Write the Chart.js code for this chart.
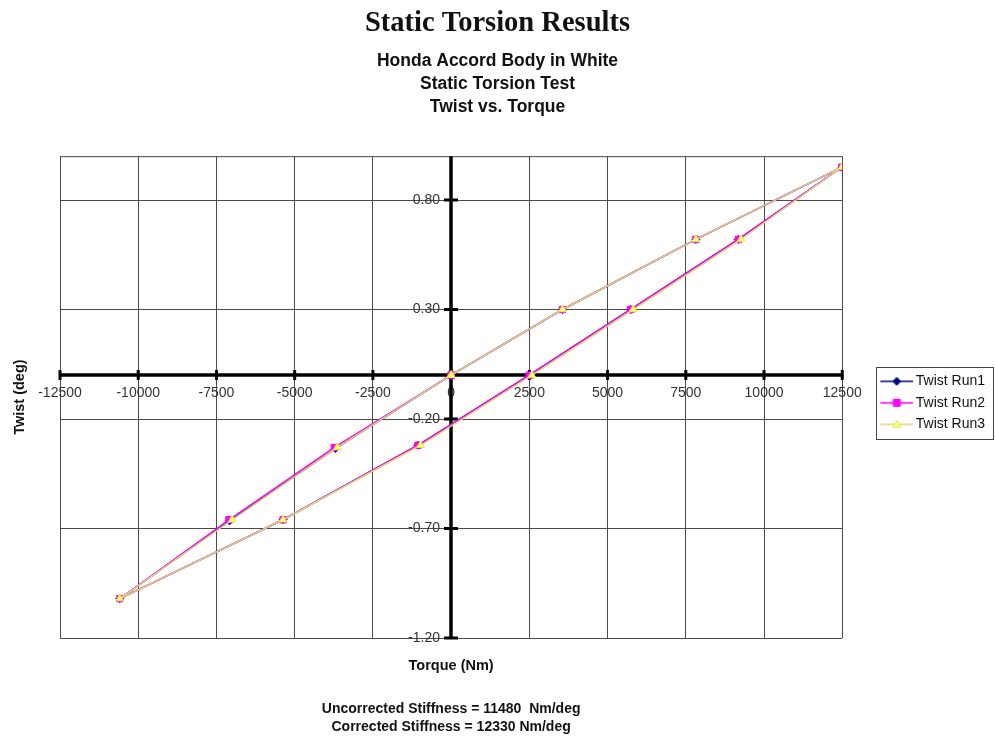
<!DOCTYPE html>
<html>
<head>
<meta charset="utf-8">
<title>Static Torsion Results</title>
<script src="https://cdn.jsdelivr.net/npm/chart.js@4.4.1/dist/chart.umd.min.js"></script>
<style>
  html, body { margin: 0; padding: 0; background: #ffffff; }
  #wrap { width: 995px; height: 738px; }
</style>
</head>
<body>
<div id="wrap"><canvas id="chart" width="995" height="738"></canvas></div>
<script>
// ---- data: torque (Nm) and twist (deg) in test order, one closed loop per run ----
const seriesNames = ['Twist Run1', 'Twist Run2', 'Twist Run3'];

const run1Torque = [0, 3560, 7820, 12490, 9180, 5740, 2500, -1060, -5370, -10590, -7080, -3700, 0];
const run1Twist  = [0, 0.30, 0.62, 0.95, 0.62, 0.30, 0.00, -0.32, -0.66, -1.02, -0.665, -0.335, 0];

const run2Torque = [0, 3560, 7820, 12490, 9180, 5740, 2500, -1060, -5370, -10590, -7100, -3730, 0];
const run2Twist  = [0, 0.30, 0.62, 0.95, 0.62, 0.30, 0.00, -0.32, -0.66, -1.02, -0.66, -0.33, 0];

const run3Torque = [0, 3560, 7820, 12490, 9260, 5820, 2580, -980, -5370, -10590, -7000, -3640, 0];
const run3Twist  = [0, 0.30, 0.62, 0.95, 0.62, 0.30, 0.00, -0.32, -0.66, -1.02, -0.66, -0.33, 0];

const xTicks = [-12500, -10000, -7500, -5000, -2500, 0, 2500, 5000, 7500, 10000, 12500];
const yTicks = [-1.2, -0.7, -0.2, 0.3, 0.8];

const titleText = 'Static Torsion Results';
const subtitleLines = ['Honda Accord Body in White', 'Static Torsion Test', 'Twist vs. Torque'];
const xTitle = 'Torque (Nm)';
const yTitle = 'Twist (deg)';
const noteLines = ['Uncorrected Stiffness = 11480  Nm/deg', 'Corrected Stiffness = 12330 Nm/deg'];

// ---- styles ----
const SANS = "'Liberation Sans', Arial, Helvetica, sans-serif";
const SERIF = "'Liberation Serif', 'Times New Roman', serif";
const lineColors = ['#000080', '#ff00ff', '#d8d878'];
const lineWidths = [1.5, 1.5, 1.5];
const markerFill = ['#000080', '#ff00ff', '#ffff70'];
const markerStyle = ['rectRot', 'rect', 'triangle'];
const markerRadius = [4, 4.5, 4.5];

const toPoints = (xs, ys) => xs.map((v, i) => ({ x: v, y: ys[i] }));

Chart.defaults.font.family = SANS;
Chart.defaults.color = '#111';

// legend sample: short line with the series marker in its middle
function legendSample(i) {
  const c = document.createElement('canvas');
  c.width = 68; c.height = 14;
  const g = c.getContext('2d');
  const cy = 7, x1 = 35, x2 = 68, mx = 51.5;
  g.strokeStyle = lineColors[i];
  g.lineWidth = 1.5;
  g.beginPath(); g.moveTo(x1, cy); g.lineTo(x2, cy); g.stroke();
  g.fillStyle = markerFill[i];
  g.strokeStyle = i === 2 ? '#e4e44a' : lineColors[i];
  g.lineWidth = 1;
  g.beginPath();
  if (i === 0) {
    g.moveTo(mx, cy - 4); g.lineTo(mx + 4, cy); g.lineTo(mx, cy + 4); g.lineTo(mx - 4, cy); g.closePath();
  } else if (i === 1) {
    g.rect(mx - 3.5, cy - 3.5, 7, 7);
  } else {
    g.moveTo(mx, cy - 4); g.lineTo(mx + 4, cy + 3); g.lineTo(mx - 4, cy + 3); g.closePath();
  }
  g.fill(); g.stroke();
  return c;
}
const samples = [0, 1, 2].map(legendSample);

// centred axes drawn at zero torque / zero twist, with the frame on top
const centerAxes = {
  id: 'centerAxes',
  beforeDatasetsDraw(chart) {
    const { ctx, chartArea: a, scales: { x, y } } = chart;
    const x0 = Math.round(x.getPixelForValue(0));
    const y0 = Math.round(y.getPixelForValue(0));
    ctx.save();
    // top edge of the plot frame
    ctx.strokeStyle = '#444';
    ctx.lineWidth = 1;
    ctx.beginPath(); ctx.moveTo(a.left, a.top + 0.5); ctx.lineTo(a.right, a.top + 0.5); ctx.stroke();

    // tick labels
    ctx.fillStyle = '#333';
    ctx.font = '14px ' + SANS;
    ctx.textAlign = 'center';
    ctx.textBaseline = 'middle';
    x.ticks.forEach(t => {
      ctx.fillText(String(t.value), x.getPixelForValue(t.value), y0 + 18);
    });
    ctx.textAlign = 'right';
    y.ticks.forEach(t => {
      ctx.fillText(t.value.toFixed(2), x0 - 11, y.getPixelForValue(t.value));
    });

    // axis lines
    ctx.strokeStyle = '#000';
    ctx.lineWidth = 3.5;
    ctx.beginPath(); ctx.moveTo(a.left, y0); ctx.lineTo(a.right, y0); ctx.stroke();
    ctx.beginPath(); ctx.moveTo(x0, a.top); ctx.lineTo(x0, a.bottom); ctx.stroke();

    // tick marks crossing the axes
    ctx.lineWidth = 3;
    x.ticks.forEach(t => {
      const px = x.getPixelForValue(t.value);
      ctx.beginPath(); ctx.moveTo(px, y0 - 5); ctx.lineTo(px, y0 + 5); ctx.stroke();
    });
    y.ticks.forEach(t => {
      const py = y.getPixelForValue(t.value);
      ctx.beginPath(); ctx.moveTo(x0 - 7, py); ctx.lineTo(x0 + 7, py); ctx.stroke();
    });
    ctx.restore();
  }
};

// axis titles, stiffness notes and the legend frame
const annotations = {
  id: 'annotations',
  afterDraw(chart) {
    const { ctx, chartArea: a, legend } = chart;
    const cx = (a.left + a.right) / 2;
    ctx.save();
    ctx.fillStyle = '#111';
    ctx.textAlign = 'center';
    ctx.textBaseline = 'middle';
    ctx.font = 'bold 14.5px ' + SANS;
    ctx.fillText(xTitle, cx, 666);
    ctx.save();
    ctx.translate(20, (a.top + a.bottom) / 2);
    ctx.rotate(-Math.PI / 2);
    ctx.fillText(yTitle, 0, 0);
    ctx.restore();
    ctx.font = 'bold 14px ' + SANS;
    ctx.fillText(noteLines[0], cx, 709);
    ctx.fillText(noteLines[1], cx, 727);

    if (legend && legend.legendHitBoxes && legend.legendHitBoxes.length) {
      const hb = legend.legendHitBoxes;
      const first = hb[0], last = hb[hb.length - 1];
      const left = first.left + 26.5;
      const top = first.top - 7;
      const right = legend.right - 1.5;
      const bottom = last.top + last.height + 8;
      ctx.strokeStyle = '#444';
      ctx.lineWidth = 1;
      ctx.strokeRect(Math.round(left) + 0.5, Math.round(top) + 0.5, Math.round(right - left), Math.round(bottom - top));
    }
    ctx.restore();
  }
};

const datasets = [run1Torque, run2Torque, run3Torque].map((xs, i) => ({
  label: seriesNames[i],
  data: toPoints(xs, [run1Twist, run2Twist, run3Twist][i]),
  showLine: true,
  borderColor: lineColors[i],
  borderWidth: lineWidths[i],
  backgroundColor: markerFill[i],
  pointStyle: markerStyle[i],
  pointRadius: markerRadius[i],
  pointBackgroundColor: markerFill[i],
  pointBorderColor: i === 2 ? '#e4e44a' : lineColors[i],
  pointBorderWidth: 1,
  tension: 0,
  order: 2 - i
}));

new Chart(document.getElementById('chart'), {
  type: 'scatter',
  data: { datasets },
  options: {
    responsive: false,
    animation: false,
    devicePixelRatio: 1,
    layout: { padding: 0 },
    events: [],
    plugins: {
      title: {
        display: true,
        text: titleText,
        color: '#111',
        font: { family: SERIF, size: 28.5, weight: 'bold', lineHeight: 1.2 },
        padding: { top: 7, bottom: 8 }
      },
      subtitle: {
        display: true,
        text: subtitleLines,
        color: '#111',
        font: { family: SANS, size: 17.5, weight: 'bold', lineHeight: 23 / 17.5 },
        padding: { top: 0, bottom: 38 }
      },
      legend: {
        position: 'right',
        align: 'center',
        fullSize: false,
        title: { display: true, text: ' ', font: { size: 1, lineHeight: 1 }, padding: { top: 10.5, bottom: 0 } },
        labels: {
          usePointStyle: true,
          pointStyleWidth: 59,
          padding: 7.5,
          color: '#111',
          font: { family: SANS, size: 14 },
          generateLabels: chart => chart.data.datasets.map((ds, i) => ({
            text: ds.label,
            pointStyle: samples[i],
            datasetIndex: i,
            hidden: false,
            lineWidth: 0,
            strokeStyle: 'rgba(0,0,0,0)',
            fillStyle: 'rgba(0,0,0,0)'
          }))
        }
      },
      tooltip: { enabled: false }
    },
    scales: {
      x: {
        type: 'linear',
        min: -12500,
        max: 12500,
        afterBuildTicks: s => { s.ticks = xTicks.map(v => ({ value: v })); },
        afterFit: s => { s.height = 100; },
        ticks: { display: false },
        grid: { color: '#4a4a4a', lineWidth: 1, drawTicks: false },
        border: { display: false }
      },
      y: {
        type: 'linear',
        min: -1.2,
        max: 1.0,
        afterBuildTicks: s => { s.ticks = yTicks.map(v => ({ value: v })); },
        afterFit: s => { s.width = 60; },
        ticks: { display: false },
        grid: { color: '#4a4a4a', lineWidth: 1, drawTicks: false },
        border: { display: false }
      }
    }
  },
  plugins: [centerAxes, annotations]
});
</script>
</body>
</html>
